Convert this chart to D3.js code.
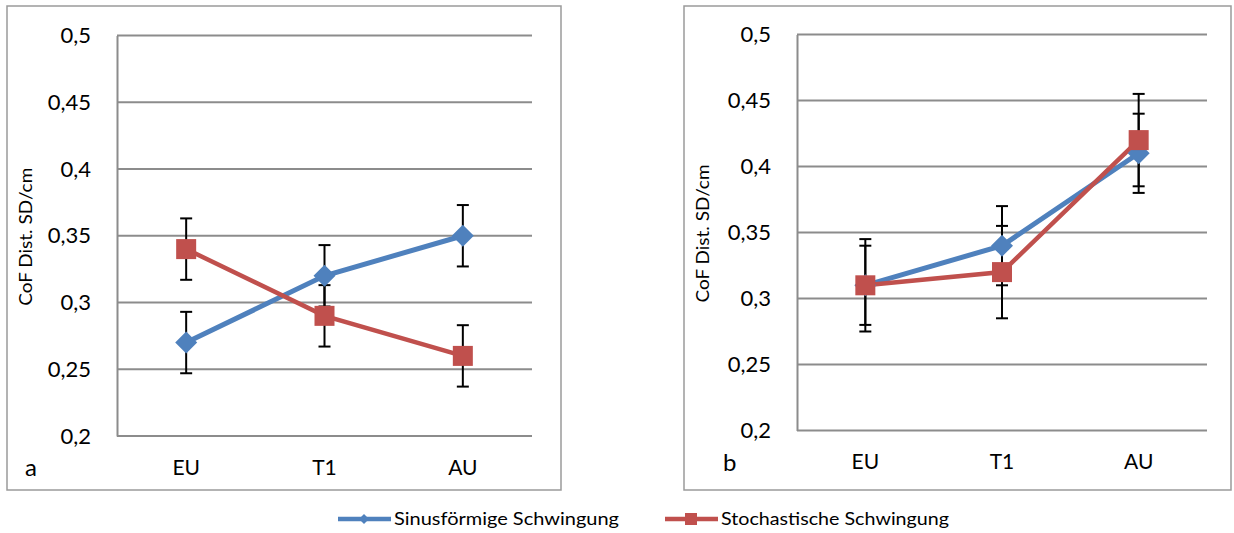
<!DOCTYPE html>
<html>
<head>
<meta charset="utf-8">
<script src="https://cdn.jsdelivr.net/npm/d3@7"></script>
<style>
  html, body { margin: 0; padding: 0; background: #fff; }
  svg { display: block; font-family: Lato, "Liberation Sans", sans-serif; }
</style>
</head>
<body>
<svg id="chart" width="1234" height="533"></svg>
<script>
// categories and axis
const categories = ['EU', 'T1', 'AU'];
const yTicks = [0.2, 0.25, 0.3, 0.35, 0.4, 0.45, 0.5];
const seriesNames = ['Sinusförmige Schwingung', 'Stochastische Schwingung'];

// panel a
const sinusA = [0.27, 0.32, 0.35];
const sinusErrA = [0.023, 0.023, 0.023];
const stochA = [0.34, 0.29, 0.26];
const stochErrA = [0.023, 0.023, 0.023];

// panel b
const sinusB = [0.31, 0.34, 0.41];
const sinusErrB = [0.03, 0.03, 0.03];
const stochB = [0.31, 0.32, 0.42];
const stochErrB = [0.035, 0.035, 0.035];

const BLUE = '#4F81BD';
const RED = '#C0504D';
const GRID = '#8c8c8c';

const svg = d3.select('#chart');
const deLocale = d3.formatLocale({ decimal: ',', thousands: '.', grouping: [3], currency: ['', ' €'] });
const fmt = v => deLocale.format('~g')(v);

function drawPanel(box, plot, letter, sinus, sinusErr, stoch, stochErr) {
    // outer frame
    svg.append('rect')
        .attr('x', box.x).attr('y', box.y)
        .attr('width', box.w).attr('height', box.h)
        .attr('fill', '#fff')
        .attr('stroke', '#9a9a9a')
        .attr('stroke-width', 1.5);

    const x = d3.scaleBand().domain(categories).range([plot.left, plot.right]);
    const y = d3.scaleLinear().domain([0.2, 0.5]).range([plot.bottom, plot.top]);
    const cx = d => x(d) + x.bandwidth() / 2;

    // gridlines
    svg.append('g')
        .selectAll('line')
        .data(yTicks)
        .enter().append('line')
        .attr('x1', plot.left).attr('x2', plot.right)
        .attr('y1', d => y(d)).attr('y2', d => y(d))
        .attr('stroke', GRID)
        .attr('stroke-width', 2);

    // y axis
    const yAxis = svg.append('g')
        .attr('transform', `translate(${plot.left},0)`)
        .call(d3.axisLeft(y).tickValues(yTicks).tickFormat(fmt).tickSize(0).tickPadding(26));
    yAxis.select('.domain').attr('stroke', GRID).attr('stroke-width', 2);
    yAxis.selectAll('text')
        .attr('fill', '#000')
        .style('font-size', '22px')
        .style('font-family', 'Lato, "Liberation Sans", sans-serif');

    // x axis labels
    const xAxis = svg.append('g')
        .attr('transform', `translate(0,${plot.bottom})`)
        .call(d3.axisBottom(x).tickSize(0).tickPadding(24));
    xAxis.select('.domain').remove();
    xAxis.selectAll('text')
        .attr('fill', '#000')
        .style('font-size', '21px')
        .style('font-family', 'Lato, "Liberation Sans", sans-serif');

    // y title
    svg.append('text')
        .attr('transform', `translate(${box.x + 19},${(plot.top + plot.bottom) / 2 + 1}) rotate(-90)`)
        .attr('text-anchor', 'middle')
        .attr('dy', '0.35em')
        .attr('textLength', 138)
        .attr('lengthAdjust', 'spacingAndGlyphs')
        .style('font-size', '17px')
        .text('CoF Dist. SD/cm');

    // panel letter
    svg.append('text')
        .attr('x', box.x + letter.dx)
        .attr('y', plot.bottom + 40)
        .style('font-size', '24px')
        .text(letter.text);

    const line = d3.line().x((d, i) => cx(categories[i])).y(d => y(d));

    // lines
    svg.append('path').datum(sinus)
        .attr('d', line).attr('fill', 'none')
        .attr('stroke', BLUE).attr('stroke-width', 5);
    svg.append('path').datum(stoch)
        .attr('d', line).attr('fill', 'none')
        .attr('stroke', RED).attr('stroke-width', 4.5);

    // error bars
    function errorBars(vals, errs) {
        const g = svg.append('g').attr('stroke', '#000').attr('stroke-width', 2);
        vals.forEach((v, i) => {
            const px = cx(categories[i]);
            const top = y(v + errs[i]);
            const bot = y(v - errs[i]);
            g.append('line').attr('x1', px).attr('x2', px).attr('y1', top).attr('y2', bot);
            g.append('line').attr('x1', px - 6).attr('x2', px + 6).attr('y1', top).attr('y2', top);
            g.append('line').attr('x1', px - 6).attr('x2', px + 6).attr('y1', bot).attr('y2', bot);
        });
    }
    errorBars(sinus, sinusErr);
    errorBars(stoch, stochErr);

    // markers
    svg.append('g').selectAll('path')
        .data(sinus)
        .enter().append('path')
        .attr('d', 'M0,-11L11,0L0,11L-11,0Z')
        .attr('transform', (d, i) => `translate(${cx(categories[i])},${y(d)})`)
        .attr('fill', BLUE);
    svg.append('g').selectAll('rect')
        .data(stoch)
        .enter().append('rect')
        .attr('x', (d, i) => cx(categories[i]) - 10)
        .attr('y', d => y(d) - 10)
        .attr('width', 20).attr('height', 20)
        .attr('fill', RED);
}

drawPanel({ x: 7, y: 6, w: 554, h: 484 },
    { left: 117, right: 532, top: 35.5, bottom: 436 },
    { text: 'a', dx: 18 },
    sinusA, sinusErrA, stochA, stochErrA);

drawPanel({ x: 684, y: 6, w: 547, h: 484 },
    { left: 797, right: 1207, top: 34.5, bottom: 430.5 },
    { text: 'b', dx: 39 },
    sinusB, sinusErrB, stochB, stochErrB);

// legend
const legend = svg.append('g').attr('transform', 'translate(0,519)');
const legendItems = [
    { name: seriesNames[0], color: BLUE, x: 338, marker: 'diamond', len: 225 },
    { name: seriesNames[1], color: RED, x: 665, marker: 'square', len: 228 }
];
legendItems.forEach(it => {
    legend.append('line')
        .attr('x1', it.x).attr('x2', it.x + 53)
        .attr('stroke', it.color).attr('stroke-width', 4.5);
    if (it.marker === 'diamond') {
        legend.append('path').attr('d', 'M0,-5L5,0L0,5L-5,0Z')
            .attr('transform', `translate(${it.x + 26},0)`).attr('fill', it.color);
    } else {
        legend.append('rect').attr('x', it.x + 20).attr('y', -6)
            .attr('width', 12).attr('height', 12).attr('fill', it.color);
    }
    legend.append('text')
        .attr('x', it.x + 56)
        .attr('dy', '0.35em')
        .attr('textLength', it.len)
        .attr('lengthAdjust', 'spacingAndGlyphs')
        .style('font-size', '18px')
        .text(it.name);
});
</script>
</body>
</html>
